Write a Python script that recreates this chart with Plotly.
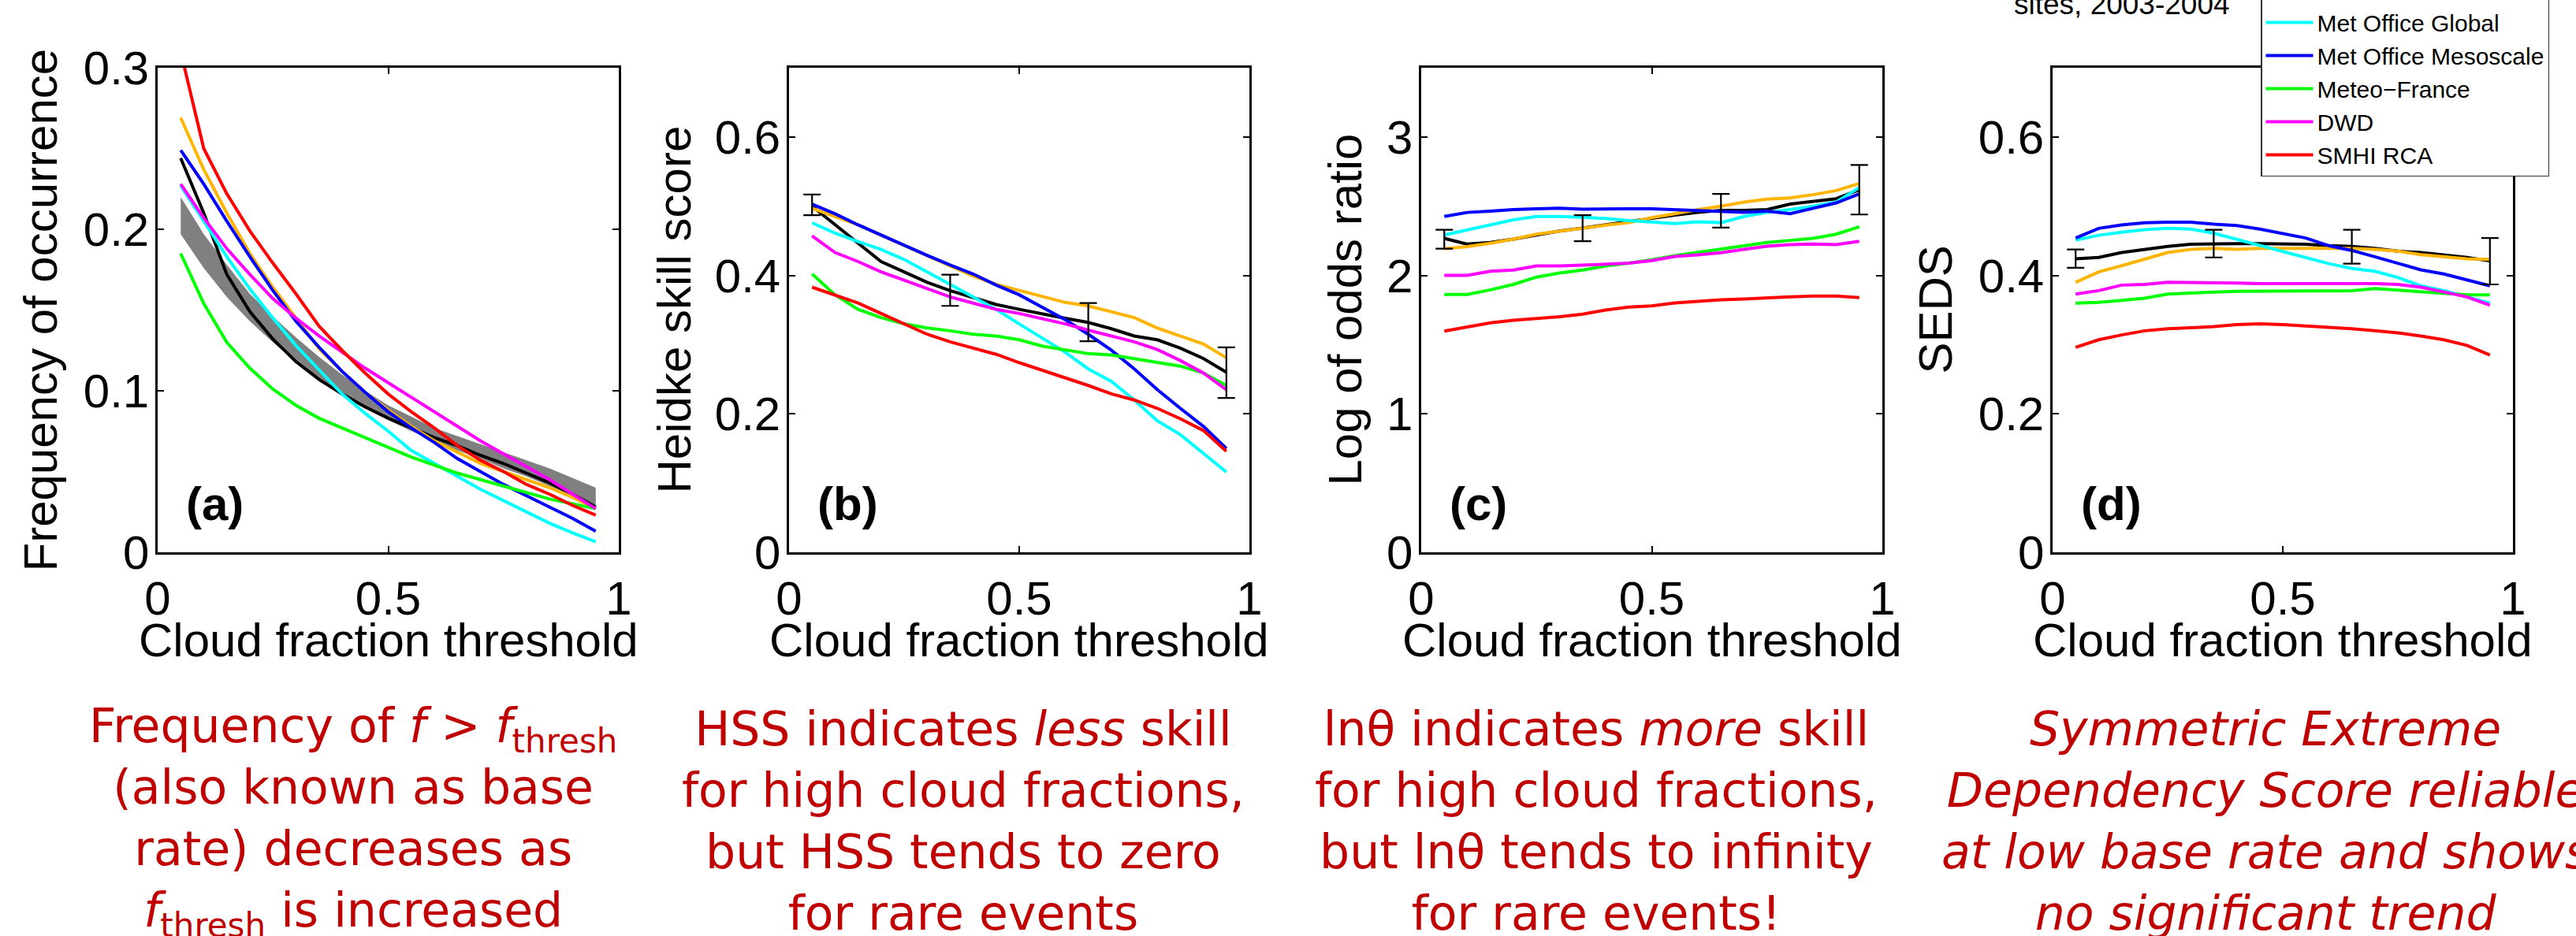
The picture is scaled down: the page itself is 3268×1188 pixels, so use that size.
import plotly.graph_objects as go

W, H = 3268, 1188

# ---------------- data ----------------
thresholds = [0.05, 0.10, 0.15, 0.20, 0.25, 0.30, 0.35, 0.40, 0.45, 0.50,
              0.55, 0.60, 0.65, 0.70, 0.75, 0.80, 0.85, 0.90, 0.95]

model_names = ["ECMWF", "RACMO", "Met Office Global", "Met Office Mesoscale",
               "Meteo\u2212France", "DWD", "SMHI RCA"]
model_colors = ["#000000", "#FFB400", "#00FFFF", "#0000FF", "#00FF00", "#FF00FF", "#FF0000"]

# (a) frequency of occurrence
freq_ecmwf = [0.244, 0.210, 0.172, 0.149, 0.132, 0.118, 0.107, 0.098, 0.090, 0.083, 0.077, 0.071, 0.066, 0.060, 0.055, 0.049, 0.043, 0.036, 0.028]
freq_racmo = [0.269, 0.237, 0.210, 0.185, 0.164, 0.145, 0.126, 0.112, 0.099, 0.088, 0.078, 0.069, 0.062, 0.055, 0.050, 0.045, 0.040, 0.034, 0.027]
freq_mog = [0.227, 0.205, 0.183, 0.163, 0.145, 0.128, 0.113, 0.098, 0.086, 0.075, 0.063, 0.055, 0.047, 0.039, 0.032, 0.025, 0.018, 0.012, 0.0065]
freq_mom = [0.249, 0.228, 0.205, 0.183, 0.162, 0.143, 0.127, 0.112, 0.099, 0.087, 0.077, 0.068, 0.058, 0.050, 0.042, 0.035, 0.028, 0.021, 0.013]
freq_mf = [0.185, 0.154, 0.130, 0.114, 0.101, 0.091, 0.083, 0.077, 0.071, 0.065, 0.059, 0.054, 0.049, 0.045, 0.041, 0.037, 0.033, 0.030, 0.027]
freq_dwd = [0.228, 0.207, 0.188, 0.172, 0.157, 0.145, 0.134, 0.124, 0.114, 0.105, 0.096, 0.087, 0.078, 0.069, 0.061, 0.053, 0.045, 0.036, 0.027]
freq_smhi = [0.310, 0.250, 0.222, 0.199, 0.179, 0.160, 0.140, 0.125, 0.111, 0.098, 0.087, 0.077, 0.066, 0.057, 0.050, 0.042, 0.036, 0.029, 0.023]
obs_freq_upper = [0.220, 0.197, 0.178, 0.160, 0.146, 0.133, 0.121, 0.110, 0.100, 0.091, 0.084, 0.077, 0.072, 0.067, 0.062, 0.057, 0.052, 0.046, 0.040]
obs_freq_lower = [0.197, 0.176, 0.158, 0.143, 0.130, 0.118, 0.107, 0.098, 0.090, 0.082, 0.075, 0.069, 0.063, 0.058, 0.052, 0.047, 0.041, 0.035, 0.029]

# (b) Heidke skill score
hss_ecmwf = [0.500, 0.473, 0.446, 0.420, 0.405, 0.390, 0.378, 0.368, 0.358, 0.351, 0.344, 0.338, 0.332, 0.323, 0.3125, 0.307, 0.295, 0.280, 0.260]
hss_racmo = [0.497, 0.485, 0.473, 0.458, 0.443, 0.429, 0.414, 0.399, 0.387, 0.378, 0.369, 0.361, 0.356, 0.348, 0.339, 0.324, 0.3125, 0.301, 0.281]
hss_mog = [0.476, 0.461, 0.449, 0.4375, 0.423, 0.405, 0.387, 0.369, 0.351, 0.330, 0.310, 0.289, 0.265, 0.247, 0.220, 0.190, 0.170, 0.143, 0.116]
hss_mom = [0.503, 0.489, 0.473, 0.458, 0.443, 0.429, 0.415, 0.402, 0.386, 0.372, 0.354, 0.336, 0.315, 0.292, 0.265, 0.235, 0.208, 0.182, 0.150]
hss_mf = [0.402, 0.372, 0.351, 0.339, 0.330, 0.324, 0.320, 0.315, 0.3125, 0.307, 0.298, 0.292, 0.287, 0.285, 0.280, 0.274, 0.269, 0.259, 0.241]
hss_dwd = [0.457, 0.433, 0.420, 0.405, 0.393, 0.381, 0.369, 0.360, 0.351, 0.345, 0.338, 0.330, 0.321, 0.3125, 0.304, 0.293, 0.277, 0.259, 0.235]
hss_smhi = [0.383, 0.372, 0.360, 0.345, 0.330, 0.315, 0.304, 0.295, 0.286, 0.274, 0.263, 0.253, 0.241, 0.229, 0.220, 0.208, 0.193, 0.176, 0.146]

# (c) log of odds ratio
lor_ecmwf = [2.268, 2.226, 2.238, 2.262, 2.292, 2.321, 2.342, 2.366, 2.387, 2.411, 2.435, 2.455, 2.470, 2.470, 2.476, 2.515, 2.536, 2.554, 2.619]
lor_racmo = [2.193, 2.208, 2.232, 2.262, 2.298, 2.321, 2.345, 2.363, 2.381, 2.417, 2.446, 2.476, 2.500, 2.530, 2.551, 2.560, 2.583, 2.613, 2.664]
lor_mog = [2.292, 2.327, 2.366, 2.402, 2.426, 2.426, 2.420, 2.411, 2.396, 2.387, 2.375, 2.387, 2.381, 2.426, 2.455, 2.476, 2.500, 2.530, 2.634]
lor_mom = [2.426, 2.455, 2.464, 2.476, 2.482, 2.485, 2.479, 2.482, 2.482, 2.482, 2.476, 2.470, 2.461, 2.455, 2.464, 2.446, 2.485, 2.524, 2.589]
lor_mf = [1.863, 1.863, 1.896, 1.935, 1.988, 2.018, 2.039, 2.068, 2.089, 2.113, 2.143, 2.167, 2.188, 2.217, 2.238, 2.253, 2.268, 2.298, 2.351]
lor_dwd = [2.000, 2.000, 2.030, 2.039, 2.068, 2.068, 2.074, 2.083, 2.089, 2.107, 2.137, 2.149, 2.164, 2.188, 2.211, 2.223, 2.226, 2.223, 2.247]
lor_smhi = [1.598, 1.628, 1.658, 1.676, 1.688, 1.702, 1.720, 1.750, 1.771, 1.780, 1.801, 1.815, 1.824, 1.830, 1.839, 1.845, 1.851, 1.851, 1.839]

# (d) SEDS
seds_ecmwf = [0.424, 0.426, 0.433, 0.4375, 0.442, 0.445, 0.446, 0.446, 0.446, 0.446, 0.445, 0.443, 0.442, 0.439, 0.435, 0.433, 0.430, 0.426, 0.421]
seds_racmo = [0.390, 0.405, 0.414, 0.424, 0.433, 0.4375, 0.439, 0.4375, 0.439, 0.439, 0.439, 0.439, 0.439, 0.4375, 0.435, 0.430, 0.427, 0.424, 0.423]
seds_mog = [0.451, 0.458, 0.4625, 0.466, 0.468, 0.467, 0.461, 0.452, 0.443, 0.435, 0.426, 0.417, 0.410, 0.406, 0.397, 0.385, 0.378, 0.369, 0.360]
seds_mom = [0.454, 0.468, 0.473, 0.476, 0.477, 0.477, 0.474, 0.472, 0.467, 0.461, 0.454, 0.443, 0.436, 0.427, 0.418, 0.408, 0.402, 0.394, 0.385]
seds_mf = [0.360, 0.361, 0.364, 0.367, 0.373, 0.375, 0.376, 0.377, 0.377, 0.377, 0.377, 0.378, 0.378, 0.381, 0.379, 0.376, 0.374, 0.372, 0.372]
seds_dwd = [0.373, 0.378, 0.386, 0.387, 0.390, 0.390, 0.389, 0.389, 0.388, 0.388, 0.389, 0.389, 0.388, 0.388, 0.387, 0.383, 0.376, 0.369, 0.357]
seds_smhi = [0.296, 0.307, 0.314, 0.320, 0.323, 0.324, 0.326, 0.329, 0.330, 0.329, 0.327, 0.326, 0.323, 0.320, 0.317, 0.3125, 0.307, 0.299, 0.285]

# error bars on the ECMWF curve
errbar_x = [0.05, 0.35, 0.65, 0.95]
hss_err_lo = [0.487, 0.356, 0.305, 0.223]
hss_err_hi = [0.517, 0.401, 0.360, 0.296]
lor_err_lo = [2.193, 2.247, 2.345, 2.440]
lor_err_hi = [2.330, 2.435, 2.589, 2.798]
seds_err_lo = [0.411, 0.426, 0.417, 0.387]
seds_err_hi = [0.4375, 0.466, 0.466, 0.454]

x_tick_vals = [0, 0.5, 1]
x_tick_text = ["0", "0.5", "1"]
freq_ticks = [0, 0.1, 0.2, 0.3]
freq_tick_text = ["0", "0.1", "0.2", "0.3"]
hss_ticks = [0, 0.2, 0.4, 0.6]
hss_tick_text = ["0", "0.2", "0.4", "0.6"]
lor_ticks = [0, 1, 2, 3]
lor_tick_text = ["0", "1", "2", "3"]
seds_ticks = [0, 0.2, 0.4, 0.6]
seds_tick_text = ["0", "0.2", "0.4", "0.6"]

y_titles = ["Frequency of occurrence", "Heidke skill score", "Log of odds ratio", "SEDS"]
x_title = "Cloud fraction threshold"
panel_labels = ["(a)", "(b)", "(c)", "(d)"]

notes = [
    "Frequency of <i>f</i> &gt; <i>f</i><sub>thresh</sub><br>(also known as base<br>rate) decreases as<br><i>f</i><sub>thresh</sub> is increased",
    "HSS indicates <i>less</i> skill<br>for high cloud fractions,<br>but HSS tends to zero<br>for rare events",
    "ln\u03b8 indicates <i>more</i> skill<br>for high cloud fractions,<br>but ln\u03b8 tends to infinity<br>for rare events!",
    "<i>Symmetric Extreme</i><br><i>Dependency Score reliable</i><br><i>at low base rate and shows</i><br><i>no significant trend</i>",
]
title_tail = "sites, 2003-2004"

panels = [
    dict(series=[freq_ecmwf, freq_racmo, freq_mog, freq_mom, freq_mf, freq_dwd, freq_smhi],
         yrange=[0, 0.3], ticks=freq_ticks, ticktext=freq_tick_text, err=None),
    dict(series=[hss_ecmwf, hss_racmo, hss_mog, hss_mom, hss_mf, hss_dwd, hss_smhi],
         yrange=[0, 0.7], ticks=hss_ticks, ticktext=hss_tick_text, err=(hss_err_lo, hss_err_hi)),
    dict(series=[lor_ecmwf, lor_racmo, lor_mog, lor_mom, lor_mf, lor_dwd, lor_smhi],
         yrange=[0, 3.5], ticks=lor_ticks, ticktext=lor_tick_text, err=(lor_err_lo, lor_err_hi)),
    dict(series=[seds_ecmwf, seds_racmo, seds_mog, seds_mom, seds_mf, seds_dwd, seds_smhi],
         yrange=[0, 0.7], ticks=seds_ticks, ticktext=seds_tick_text, err=(seds_err_lo, seds_err_hi)),
]

# ---------------- layout geometry (pixels) ----------------
panel_px = [(200, 785), (1001, 1585), (1803, 2388), (2604, 3188)]
top_px, bot_px = 86, 701
ytitle_cx = [51, 855, 1706, 2455]
note_cx = [448, 1222, 2025, 2874]

AX_FONT = "Liberation Sans, Arial, Helvetica, sans-serif"

fig = go.Figure()

for i, p in enumerate(panels):
    sfx = "" if i == 0 else str(i + 1)
    xref, yref = "x" + sfx, "y" + sfx
    if i == 0:
        fig.add_trace(go.Scatter(x=thresholds, y=obs_freq_lower, mode="lines",
                                 line=dict(width=0, color="rgb(128,128,128)"),
                                 showlegend=False, hoverinfo="skip", xaxis=xref, yaxis=yref))
        fig.add_trace(go.Scatter(x=thresholds, y=obs_freq_upper, mode="lines", fill="tonexty",
                                 fillcolor="rgb(128,128,128)",
                                 line=dict(width=0, color="rgb(128,128,128)"),
                                 showlegend=False, hoverinfo="skip", xaxis=xref, yaxis=yref))
    for name, col, vals in zip(model_names, model_colors, p["series"]):
        fig.add_trace(go.Scatter(x=thresholds, y=vals, mode="lines", name=name,
                                 line=dict(color=col, width=4),
                                 showlegend=(i == 0), xaxis=xref, yaxis=yref))
    if p["err"] is not None:
        lo, hi = p["err"]
        mid = [(a + b) / 2 for a, b in zip(lo, hi)]
        half = [(b - a) / 2 for a, b in zip(lo, hi)]
        fig.add_trace(go.Scatter(x=errbar_x, y=mid, mode="markers",
                                 marker=dict(size=1, color="rgba(0,0,0,0)"),
                                 error_y=dict(type="data", array=half, visible=True,
                                              color="black", thickness=2.2, width=11),
                                 showlegend=False, hoverinfo="skip", xaxis=xref, yaxis=yref))

    l, r = panel_px[i]
    axis_common = dict(showline=True, linewidth=2.5, linecolor="black", mirror="ticks",
                       ticks="inside", ticklen=8, tickwidth=2, tickcolor="black",
                       showgrid=False, zeroline=False, fixedrange=True,
                       tickfont=dict(family=AX_FONT, size=60, color="black"))
    fig.layout["xaxis" + sfx] = dict(axis_common, domain=[l / W, r / W], range=[0, 1],
                                     tickmode="array", tickvals=x_tick_vals, ticktext=x_tick_text,
                                     anchor=yref, ticklabelstandoff=4)
    fig.layout["yaxis" + sfx] = dict(axis_common, domain=[1 - bot_px / H, 1 - top_px / H],
                                     range=p["yrange"], tickmode="array", tickvals=p["ticks"],
                                     ticktext=p["ticktext"], anchor=xref, ticklabelstandoff=-4)

annotations = []
for i in range(4):
    sfx = "" if i == 0 else str(i + 1)
    l, r = panel_px[i]
    annotations.append(dict(text=y_titles[i], x=ytitle_cx[i] / W, y=1 - (top_px + bot_px) / 2 / H,
                            xref="paper", yref="paper", xanchor="center", yanchor="middle",
                            textangle=-90, showarrow=False,
                            font=dict(family=AX_FONT, size=60, color="black")))
    annotations.append(dict(text=x_title, x=(l + r) / 2 / W, y=1 - 812 / H,
                            xref="paper", yref="paper", xanchor="center", yanchor="middle",
                            showarrow=False, font=dict(family=AX_FONT, size=60, color="black")))
    annotations.append(dict(text="<b>" + panel_labels[i] + "</b>", x=34 / (r - l), y=26 / (bot_px - top_px),
                            xref="x" + sfx + " domain", yref="y" + sfx + " domain",
                            xanchor="left", yanchor="bottom", showarrow=False,
                            font=dict(family=AX_FONT, size=60, color="black")))
    annotations.append(dict(text=notes[i], x=note_cx[i] / W, y=1 - 1042 / H,
                            xref="paper", yref="paper", xanchor="center", yanchor="middle",
                            align="center", showarrow=False,
                            font=dict(family="DejaVu Sans, sans-serif", size=60, color="#C00000")))

annotations.append(dict(text=title_tail, x=2553 / W, y=1 - 28 / H, xref="paper", yref="paper",
                        xanchor="left", yanchor="bottom", showarrow=False,
                        font=dict(family=AX_FONT, size=37, color="black")))

fig.update_layout(
    width=W, height=H,
    margin=dict(l=0, r=0, t=0, b=0, pad=0, autoexpand=False),
    paper_bgcolor="white", plot_bgcolor="white",
    showlegend=True,
    legend=dict(x=2868 / W, xanchor="left", y=1 - 224 / H, yanchor="bottom",
                bgcolor="white", bordercolor="#333333", borderwidth=1.5,
                font=dict(family=AX_FONT, size=30, color="black"),
                itemwidth=60, tracegroupgap=0, traceorder="normal"),
    annotations=annotations,
)

fig.write_html("out.html")
